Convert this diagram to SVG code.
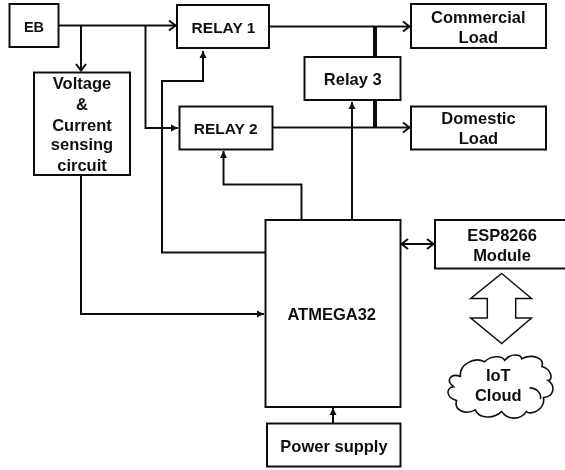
<svg xmlns="http://www.w3.org/2000/svg" width="565" height="470" viewBox="0 0 565 470">
<style>
.b{fill:#fff;stroke:#111;stroke-width:2}
.c{fill:none;stroke:#111;stroke-width:2}
.t{font-family:"Liberation Sans",Arial,sans-serif;font-weight:700;font-size:16.500px;fill:#111;text-anchor:middle}
.r{font-size:15.500px}
.e{font-size:14.500px}
</style>
<defs>
<filter id="s" x="-5%" y="-5%" width="110%" height="110%"><feGaussianBlur stdDeviation="0.45"/></filter>
<marker id="o" markerUnits="userSpaceOnUse" markerWidth="12" markerHeight="14" refX="9" refY="7" orient="auto-start-reverse"><path d="M2 2L8.500 7L2 12" fill="none" stroke="#111" stroke-width="2"/></marker>
<marker id="f" markerUnits="userSpaceOnUse" markerWidth="8" markerHeight="8" refX="7" refY="4" orient="auto"><path d="M0 0.500L7 4L0 7.500Z" fill="#111"/></marker>
</defs>
<rect width="565" height="470" fill="#fff"/>
<g filter="url(#s)">
<g id="connectors">
<path class="c" d="M58 25.500H176" marker-end="url(#o)"/>
<path class="c" d="M81 25.500V71" marker-end="url(#o)"/>
<path class="c" d="M145.500 26V128H178" marker-end="url(#f)"/>
<path class="c" d="M265 252.500H162V81H203V51" marker-end="url(#f)"/>
<path class="c" d="M81 175V314H264" marker-end="url(#f)"/>
<path class="c" d="M301.500 220V184.500H223.500V151" marker-end="url(#f)"/>
<path class="c" d="M352 220V102" marker-end="url(#f)"/>
<path class="c" d="M269 26.500H410" marker-end="url(#o)"/>
<path class="c" d="M272 127.500H410" marker-end="url(#o)"/>
<path d="M375 27V57M375 100V127" fill="none" stroke="#111" stroke-width="4"/>
<path class="c" d="M401 244H434" marker-start="url(#o)" marker-end="url(#o)"/>
<path class="c" d="M333 423V408" marker-end="url(#f)"/>
</g>
<g id="eb"><rect class="b" x="9.500" y="4" width="49" height="43"/><text class="t e" x="34" y="32">EB</text></g>
<g id="relay1"><rect class="b" x="177" y="5" width="92" height="43"/><text class="t r" x="223.500" y="32.500">RELAY 1</text></g>
<g id="relay2"><rect class="b" x="179.500" y="106.500" width="93" height="43"/><text class="t r" x="225.700" y="134">RELAY 2</text></g>
<g id="relay3"><rect class="b" x="304.500" y="57" width="96" height="43"/><text class="t" x="352.700" y="85">Relay 3</text></g>
<g id="sensing"><rect class="b" x="34" y="72.500" width="96" height="102.500"/>
<text class="t" x="82" y="89">Voltage</text><text class="t" x="82" y="110">&amp;</text><text class="t" x="82" y="130.500">Current</text><text class="t" x="82" y="150">sensing</text><text class="t" x="82" y="170.500">circuit</text></g>
<g id="commercial"><rect class="b" x="411" y="4" width="135" height="44"/><text class="t" x="478.300" y="22.500">Commercial</text><text class="t" x="478.300" y="42.500">Load</text></g>
<g id="domestic"><rect class="b" x="411" y="106.500" width="135" height="43"/><text class="t" x="478.500" y="124">Domestic</text><text class="t" x="478.500" y="144">Load</text></g>
<g id="atmega"><rect class="b" x="265.500" y="220" width="135" height="187"/><text class="t" x="331.700" y="320">ATMEGA32</text></g>
<g id="power"><rect class="b" x="267" y="423.500" width="133.500" height="43"/><text class="t" x="334" y="451.500">Power supply</text></g>
<g id="esp"><rect class="b" x="435" y="220" width="132" height="48.500"/><text class="t" x="502" y="240.700">ESP8266</text><text class="t" x="502" y="260.700">Module</text></g>
<g id="bigarrow"><path d="M501.700 273.500L531.500 298.500H515.700V318H531.500L501.700 343.500L470.700 318H487.300V298.500H470.700Z" fill="#fff" stroke="#111" stroke-width="1.500"/></g>
<g id="cloud"><g transform="translate(501 386) scale(0.93) translate(-501 -386)"><path fill="#fff" stroke="#111" stroke-width="1.700" d="M457.300 375.700C456 363 472 354 483.300 360C490 353 502 353 505 358.300C511 351 522 351 523.300 356.700C535 351 548 356 545 365C556 368 557 380 551.700 380C560 386 558 398 546.700 398.300C549 412 532 418 528.300 413.300C522 423 508 423 501.700 413.300C493 422 477 421 473.300 411.700C462 418 450 411 453.300 401.700C441 398 442 388 450 386.700C441 380 447 372 457.300 375.700Z"/><path d="M531.700 388C540 388 545 395 543.300 400" fill="none" stroke="#111" stroke-width="1.700"/></g><text class="t" x="498.300" y="380.700">IoT</text><text class="t" x="498.300" y="400.700">Cloud</text></g>
</g>
</svg>
